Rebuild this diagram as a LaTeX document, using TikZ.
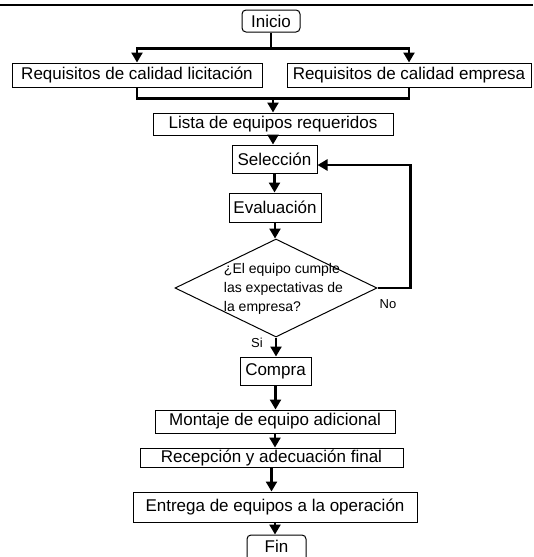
\documentclass[tikz,border=0pt]{standalone}
\usepackage{fontspec}
\setmainfont{Liberation Sans}
\usetikzlibrary{shapes.geometric,arrows.meta}
\begin{document}
\begin{tikzpicture}[x=1pt,y=-1pt,
  box/.style={draw,line width=1pt,inner sep=0pt,font=\fontsize{17}{19}\selectfont},
  term/.style={box,rounded corners=4pt},
  decision/.style={draw,line width=1pt,diamond,inner sep=0pt},
  flow/.style={line width=2.6pt,-{Triangle[length=10pt,width=11pt]}},
  link/.style={line width=2.6pt},
  note/.style={font=\fontsize{13}{15}\selectfont,inner sep=0pt}]
\useasboundingbox (0,0) rectangle (533,557);
\clip (0,0) rectangle (533,557);
% header rule
\draw[line width=2pt] (0,5) -- (533,5);

% steps
\node[term,minimum width=58pt,minimum height=22pt] (ini) at (271,21) {Inicio};
\node[box,minimum width=250pt,minimum height=24pt] (req1) at (137,75) {Requisitos de calidad licitación};
\node[box,minimum width=244pt,minimum height=24pt] (req2) at (409,75) {Requisitos de calidad empresa};
\node[box,minimum width=240pt,minimum height=22pt] (lista) at (273,124) {Lista de equipos requeridos};
\node[box,minimum width=85pt,minimum height=28pt] (sel) at (274.5,159) {Selección};
\node[box,minimum width=92pt,minimum height=29pt] (eva) at (275,207.5) {Evaluación};
\node[decision,minimum width=202pt,minimum height=98pt,
  label={[align=left,inner sep=0pt,xshift=7.5pt,yshift=-1pt,font=\fontsize{14}{19}\selectfont]center:{¿El equipo cumple\\las expectativas de\\la empresa?}}] (dec) at (276,288) {};
\node[box,minimum width=71pt,minimum height=28pt] (compra) at (275.5,371) {Compra};
\node[box,minimum width=240pt,minimum height=23pt] (mont) at (275,421.5) {Montaje de equipo adicional};
\node[box,minimum width=263pt,minimum height=19pt] (recep) at (271.5,457.5) {Recepción y adecuación final};
\node[box,minimum width=284pt,minimum height=30pt] (entr) at (275,507) {Entrega de equipos a la operación};
\node[term,minimum width=59pt,minimum height=40pt,text depth=18pt] (fin) at (276.5,555) {Fin};

% branch labels
\node[note] (no) at (388,304) {No};
\node[note] (si) at (257,343) {Si};

% connectors
\draw[link] (ini.south) -- ++(0,16) coordinate (split);
\draw[flow] (split) -| (req1.north);
\draw[flow] (split) -| (req2.north);
\coordinate (merge) at ([yshift=14pt]lista.north);
\draw[link] (req1.south) |- (merge) -| (req2.south);
\draw[flow] (merge) -- (lista.north);
\draw[flow] (lista.south) -- (lista.south |- sel.north);
\draw[flow] (sel.south) -- (sel.south |- eva.north);
\draw[flow] (eva.south) -- (eva.south |- dec.north);
\draw[flow] (dec.east) -- ++(33,0) |- ([yshift=-6pt]sel.east);
\draw[flow] (dec.south) -- (dec.south |- compra.north);
\draw[flow] (compra.south) -- (compra.south |- mont.north);
\draw[flow] (mont.south) -- (mont.south |- recep.north);
\draw[flow] (recep.south) -- (recep.south |- entr.north);
\draw[flow] (entr.south) -- (entr.south |- fin.north);
\end{tikzpicture}
\end{document}
